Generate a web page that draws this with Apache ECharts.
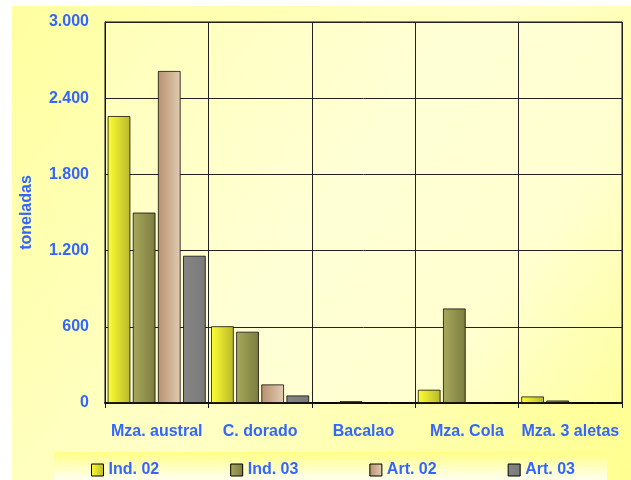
<!DOCTYPE html>
<html>
<head>
<meta charset="utf-8">
<script src="https://cdn.jsdelivr.net/npm/echarts@6/dist/echarts.min.js"></script>
<style>
html,body{margin:0;padding:0;background:#fff;}
#chart{width:631px;height:480px;}
</style>
</head>
<body>
<div id="chart"></div>
<script>
var categories = ['Mza. austral', 'C. dorado', 'Bacalao', 'Mza. Cola', 'Mza. 3 aletas'];
var seriesNames = ['Ind. 02', 'Ind. 03', 'Art. 02', 'Art. 03'];
var ind02 = [2260, 605, 0, 105, 52];
var ind03 = [1500, 562, 15, 745, 20];
var art02 = [2615, 147, 0, 0, 0];
var art03 = [1160, 60, 0, 0, 0];
var yTicks = [0, 600, 1200, 1800, 2400, 3000];

var blue = '#3366ff';
var font = '"Liberation Sans", Arial, sans-serif';

function hgrad(c1, c2) {
  return new echarts.graphic.LinearGradient(0, 0, 1, 0, [
    {offset: 0, color: c1}, {offset: 1, color: c2}
  ]);
}
var fills = [
  hgrad('#ffff33', '#b8b82c'),
  hgrad('#a8a85c', '#7c7c40'),
  hgrad('#b89070', '#e2ccb2'),
  hgrad('#858585', '#7a7a7a')
];
var dataSets = [ind02, ind03, art02, art03];

var chart = echarts.init(document.getElementById('chart'));
chart.setOption({
  animation: false,
  backgroundColor: '#ffffff',
  graphic: [
    {type: 'rect', z: -10, silent: true,
     shape: {x: 12, y: 6, width: 619, height: 474},
     style: {fill: new echarts.graphic.LinearGradient(0, 0, 1, 1, [
       {offset: 0, color: '#ffffa0'}, {offset: 0.5, color: '#ffffc8'}, {offset: 1, color: '#ffff90'}
     ])}},
    {type: 'rect', z: -9, silent: true,
     shape: {x: 54, y: 452, width: 553, height: 28},
     style: {fill: new echarts.graphic.LinearGradient(0, 0, 0, 1, [
       {offset: 0, color: '#ffff88'}, {offset: 1, color: '#fffff0'}
     ])}}
  ],
  grid: {
    left: 105, top: 22, right: 9, bottom: 77,
    show: true,
    borderColor: '#111',
    borderWidth: 1,
    backgroundColor: new echarts.graphic.LinearGradient(0, 0, 1, 1, [
      {offset: 0, color: '#ffffb8'}, {offset: 0.45, color: '#ffffd6'}, {offset: 0.75, color: '#ffffd0'}, {offset: 1, color: '#ffffa0'}
    ])
  },
  legend: {
    data: seriesNames,
    left: 86, top: 457,
    itemWidth: 12, itemHeight: 12,
    itemGap: 71,
    icon: 'rect',
    textStyle: {color: blue, fontFamily: font, fontWeight: 'bold', fontSize: 16},
    itemStyle: {borderColor: '#000', borderWidth: 1}
  },
  xAxis: {
    type: 'category',
    data: categories,
    axisLine: {show: true, lineStyle: {color: '#111', width: 2}},
    axisTick: {show: true, length: 5, interval: 0, lineStyle: {color: '#111'}},
    splitLine: {show: true, interval: 0, lineStyle: {color: '#222', width: 1}},
    axisLabel: {interval: 0, margin: 21, color: blue, fontFamily: font, fontWeight: 'bold', fontSize: 16}
  },
  yAxis: {
    type: 'value',
    min: yTicks[0], max: yTicks[yTicks.length - 1], interval: 600,
    name: 'toneladas',
    nameLocation: 'middle',
    nameGap: 70,
    nameTextStyle: {color: blue, fontFamily: font, fontWeight: 'bold', fontSize: 16},
    axisLine: {show: true, lineStyle: {color: '#111', width: 1}},
    axisTick: {show: false},
    splitLine: {show: true, lineStyle: {color: '#222', width: 1}},
    axisLabel: {
      margin: 16, color: blue, fontFamily: font, fontWeight: 'bold', fontSize: 16,
      formatter: function (v) { return String(v).replace(/\B(?=(\d{3})+(?!\d))/g, '.'); }
    }
  },
  series: seriesNames.map(function (name, i) {
    return {
      name: name,
      type: 'bar',
      data: dataSets[i],
      barCategoryGap: '5%',
      barGap: '10%',
      itemStyle: {color: fills[i], borderColor: 'rgba(0,0,0,0.75)', borderWidth: 1}
    };
  })
});
</script>
</body>
</html>
